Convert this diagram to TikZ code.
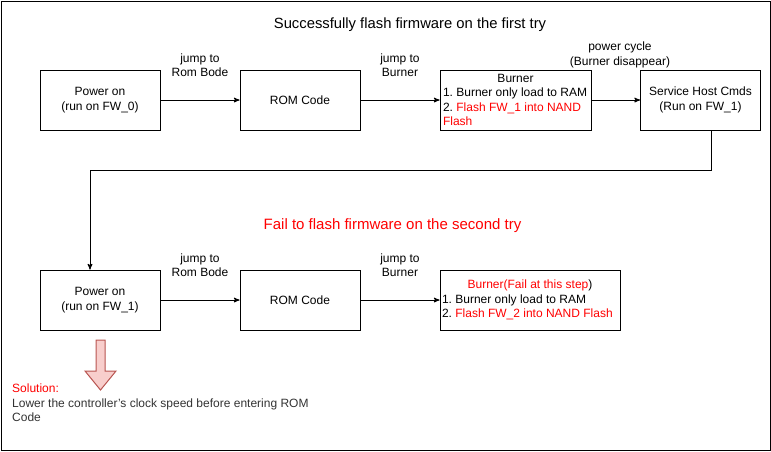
\documentclass[tikz,border=0pt]{standalone}
\usepackage{fontspec}
\setmainfont{Liberation Sans}
\usepackage{tikz}
\usetikzlibrary{arrows}
\usetikzlibrary{positioning}
\definecolor{failred}{HTML}{FF0000}
\definecolor{notegray}{HTML}{333333}
\definecolor{hintfill}{HTML}{F8CECC}
\definecolor{hintline}{HTML}{B85450}
\frenchspacing
\tikzset{stepbox/.style = {draw, line width=1pt, minimum width=120pt, minimum height=60pt,
                           inner sep=2pt, font=\fontsize{12}{14.5}\selectfont, align=center},
         hop/.style = {font=\fontsize{12}{14.5}\selectfont, align=center},
         flow/.style = {->, >=stealth', line width=1pt}}

\begin{document}
\begin{tikzpicture}[x=1pt, y=-1pt]
    \useasboundingbox (0, 0) rectangle (771, 451);
    \draw [line width=1pt] (1, 1) rectangle (770, 450);

    % first try
    \node [font=\fontsize{14.8}{17}\selectfont] (okTitle) at (410, 25) {Successfully flash firmware on the first try};
    \node [stepbox] (pon0) at (100, 100) {Power on\\(run on FW\_0)};
    \node [stepbox] (rom0) at (300, 100) {ROM Code};
    \node [stepbox, minimum width=151pt, align=left] (burn0) at (515.5, 100)
        {\makebox[145pt]{Burner}\\1. Burner only load to RAM\\2. \textcolor{failred}{Flash FW\_1 into NAND}\\\textcolor{failred}{Flash}};
    \node [stepbox] (host) at (700.5, 100) {Service Host Cmds\\(Run on FW\_1)};

    \node [hop] (toRom0) at (200, 65) {jump to\\Rom Bode};
    \node [hop] (toBurn0) at (400, 65) {jump to\\Burner};
    \node [hop] (cycle) at (620, 55) {power cycle\\(Burner disappear)};

    \draw [flow] (pon0) -- (rom0);
    \draw [flow] (rom0) -- (burn0);
    \draw [flow] (burn0) -- (host);

    % back to power on
    \coordinate (turnA) at (711, 170);
    \coordinate (turnB) at (90, 170);

    % second try
    \node [font=\fontsize{15}{17}\selectfont, text=failred] (failTitle) at (392.5, 226) {Fail to flash firmware on the second try};
    \node [stepbox] (pon1) at (100, 300) {Power on\\(run on FW\_1)};
    \node [stepbox] (rom1) at (300, 300) {ROM Code};
    \node [stepbox, minimum width=180pt, align=left] (burn1) at (530, 300)
        {\makebox[176pt]{\textcolor{failred}{Burner(Fail at this step})}\\1. Burner only load to RAM\\2. \textcolor{failred}{Flash FW\_2 into NAND Flash}};

    \node [hop] (toRom1) at (200, 265) {jump to\\Rom Bode};
    \node [hop] (toBurn1) at (400, 265) {jump to\\Burner};

    \draw [flow] (host.south -| turnA) -- (turnA) -- (turnB) -- (turnB |- pon1.north);
    \draw [flow] (pon1) -- (rom1);
    \draw [flow] (rom1) -- (burn1);

    % solution
    \draw [fill=hintfill, draw=hintline, line width=1pt]
        (96, 340) -- (105, 340) -- (105, 371) -- (116, 371) -- (100.5, 390) -- (85, 371) -- (96, 371) -- cycle;
    \node [anchor=north west, inner sep=0pt, align=left, text=notegray, font=\fontsize{12}{14.5}\selectfont] (fix) at (12, 384)
        {\textcolor{failred}{Solution:}\\Lower the controller's clock speed before entering ROM\\Code};
\end{tikzpicture}
\end{document}
